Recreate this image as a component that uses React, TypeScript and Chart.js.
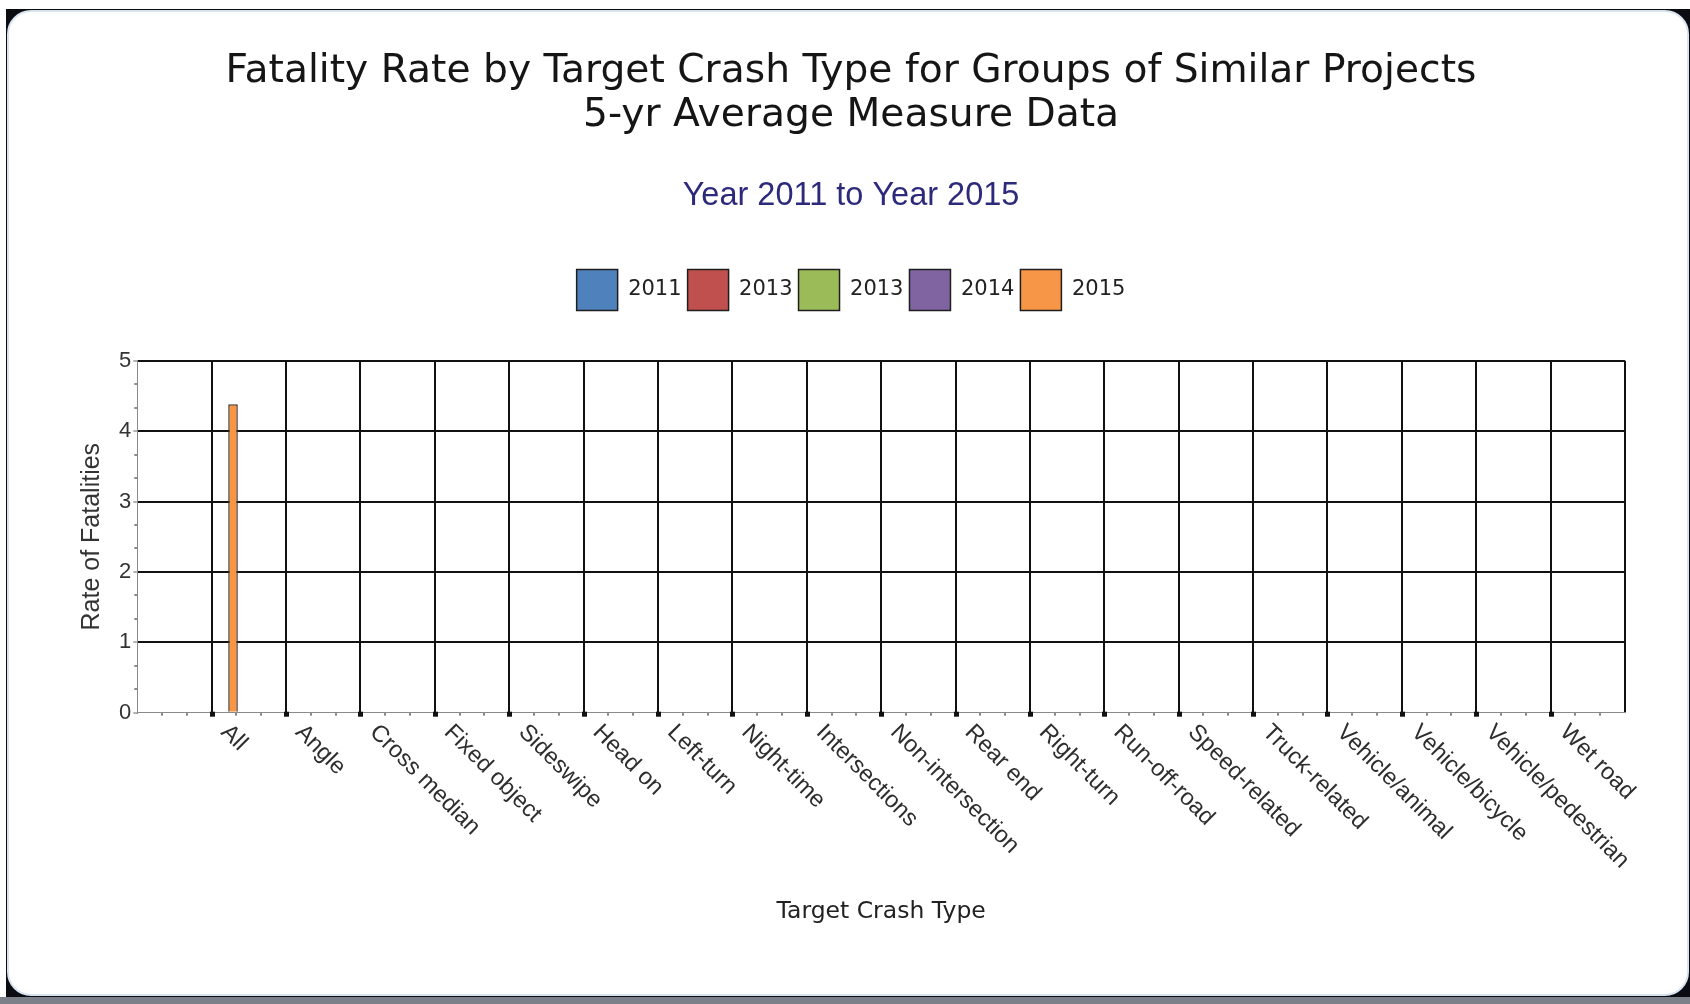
import React, { useEffect, useRef } from 'react';
import { Chart, registerables } from 'chart.js';

Chart.register(...registerables);

const titleLines = ['Fatality Rate by Target Crash Type for Groups of Similar Projects', '5-yr Average Measure Data'];
const subtitleText = 'Year 2011 to Year 2015';
const xAxisTitle = 'Target Crash Type';
const yAxisTitle = 'Rate of Fatalities';

const categories = [
  'All', 'Angle', 'Cross median', 'Fixed object', 'Sideswipe', 'Head on', 'Left-turn',
  'Night-time', 'Intersections', 'Non-intersection', 'Rear end', 'Right-turn', 'Run-off-road',
  'Speed-related', 'Truck-related', 'Vehicle/animal', 'Vehicle/bicycle', 'Vehicle/pedestrian', 'Wet road',
];

const seriesNames = ['2011', '2013', '2013', '2014', '2015'];
const seriesColors = ['#4F81BD', '#C0504D', '#9BBB59', '#8064A2', '#F79646'];

const values2011 = [null, null, null, null, null, null, null, null, null, null, null, null, null, null, null, null, null, null, null];
const values2013a = [null, null, null, null, null, null, null, null, null, null, null, null, null, null, null, null, null, null, null];
const values2013b = [null, null, null, null, null, null, null, null, null, null, null, null, null, null, null, null, null, null, null];
const values2014 = [null, null, null, null, null, null, null, null, null, null, null, null, null, null, null, null, null, null, null];
const values2015 = [4.38, null, null, null, null, null, null, null, null, null, null, null, null, null, null, null, null, null, null];

const seriesValues = [values2011, values2013a, values2013b, values2014, values2015];

const yMin = 0;
const yMax = 5;
const yStep = 1;

export default function App() {
  const canvasRef = useRef<HTMLCanvasElement | null>(null);

  useEffect(() => {
    const canvas = canvasRef.current;
    if (!canvas) return;

    const labels = ['', ...categories, ''];

    const decorPlugin = {
      id: 'decor',
      beforeInit(chart: any) {
        const lg = chart.legend;
        if (lg) {
          const orig = lg.fit.bind(lg);
          lg.fit = function () {
            orig();
            this.height += 40.2;
          };
        }
      },
      afterDraw(chart: any) {
        const { ctx, chartArea } = chart;
        const xs = chart.scales.x;
        const ys = chart.scales.y;
        ctx.save();
        // minor ticks on x
        ctx.fillStyle = '#8a8a8a';
        for (let i = 0; i < labels.length - 1; i++) {
          for (const f of [1 / 3, 2 / 3]) {
            const px = Math.round(xs.getPixelForValue(i + f));
            ctx.fillRect(px - 1, chartArea.bottom, 2, 3);
          }
        }
        // minor ticks on y
        for (let v = yMin; v < yMax; v += yStep) {
          for (const f of [1 / 3, 2 / 3]) {
            const py = Math.round(ys.getPixelForValue(v + f * yStep));
            ctx.fillRect(chartArea.left - 3, py - 1, 3, 2);
          }
        }
        // major tick squares
        ctx.fillStyle = '#111';
        categories.forEach((_, k) => {
          const px = xs.getPixelForValue(k + 1);
          ctx.fillRect(Math.round(px) - 2, chartArea.bottom - 1, 5, 5);
        });
        // rotated category labels
        ctx.font = '23.5px "Liberation Sans", Arial, sans-serif';
        ctx.fillStyle = '#2e2e2e';
        ctx.textAlign = 'left';
        ctx.textBaseline = 'middle';
        categories.forEach((c, k) => {
          const px = xs.getPixelForValue(k + 1);
          ctx.save();
          ctx.translate(px + 13, chartArea.bottom + 16);
          ctx.rotate(Math.PI / 4);
          ctx.fillText(c, 0, 0);
          ctx.restore();
        });
        ctx.restore();
      },
    };

    const chart = new Chart(canvas, {
      type: 'bar',
      data: {
        labels,
        datasets: seriesNames.map((name, i) => ({
          label: name,
          data: [null, ...seriesValues[i], null],
          backgroundColor: seriesColors[i],
          borderColor: '#4a3426',
          borderWidth: 1.5,
          barPercentage: 0.9,
          categoryPercentage: 0.717,
        })),
      },
      options: {
        responsive: false,
        animation: false,
        devicePixelRatio: 1,
        layout: { padding: { left: 77, right: 65, top: 0, bottom: 0 } },
        plugins: {
          title: {
            display: true,
            text: titleLines,
            color: '#151515',
            font: { family: '"DejaVu Sans", Verdana, sans-serif', size: 39.2, weight: 'normal', lineHeight: '44px' },
            padding: { top: 49.5, bottom: 0 },
          },
          subtitle: {
            display: true,
            text: subtitleText,
            color: '#2d2a7c',
            font: { family: '"Liberation Sans", Arial, sans-serif', size: 32.5, weight: 'normal', lineHeight: '39px' },
            padding: { top: 39, bottom: 48 },
          },
          legend: {
            display: true,
            position: 'top',
            labels: {
              boxWidth: 41,
              boxHeight: 41,
              padding: 6,
              color: '#222',
              font: { family: '"DejaVu Sans", Verdana, sans-serif', size: 21 },
              generateLabels: (ch: any) =>
                ch.data.datasets.map((ds: any, i: number) => ({
                  text: ds.label,
                  fillStyle: seriesColors[i],
                  strokeStyle: '#1e1e1e',
                  lineWidth: 1.5,
                  hidden: false,
                  datasetIndex: i,
                  fontColor: '#222',
                })),
            },
          },
          tooltip: { enabled: false },
        },
        scales: {
          x: {
            type: 'category',
            offset: false,
            grid: {
              offset: false,
              drawTicks: false,
              lineWidth: 2,
              color: (c: any) => (c.index === 0 ? 'rgba(0,0,0,0)' : '#111'),
            },
            border: { display: true, color: '#8a8a8a', width: 1 },
            ticks: { display: false },
            title: {
              display: true,
              text: xAxisTitle,
              color: '#222',
              font: { family: '"DejaVu Sans", Verdana, sans-serif', size: 23.5, lineHeight: 1.2 },
              padding: { top: 0, bottom: 77.6 },
            },
            afterFit: (s: any) => {
              s.height = 291.3;
            },
          },
          y: {
            min: yMin,
            max: yMax,
            grid: {
              lineWidth: 2,
              color: (c: any) => (c.index === 0 ? 'rgba(0,0,0,0)' : '#111'),
              tickColor: '#666',
              tickLength: 4,
              tickWidth: 1,
            },
            border: { display: true, color: '#8a8a8a', width: 1 },
            ticks: {
              stepSize: yStep,
              padding: 2,
              color: '#333',
              font: { family: '"Liberation Sans", Arial, sans-serif', size: 22 },
            },
            title: {
              display: true,
              text: yAxisTitle,
              color: '#333',
              font: { family: '"Liberation Sans", Arial, sans-serif', size: 25, lineHeight: 1.2 },
              padding: { top: 0.3, bottom: 0 },
            },
            afterFit: (s: any) => {
              s.width = 60.3;
            },
          },
        },
      },
      plugins: [decorPlugin],
    } as any);

    return () => chart.destroy();
  }, []);

  return (
    <div style={{ position: 'fixed', left: 0, top: 0, width: 1690, height: 1004, background: '#ffffff', overflow: 'hidden' }}>
      <div style={{ position: 'absolute', left: 0, top: 997, width: 1690, height: 7, background: '#7c8189' }} />
      <div style={{ position: 'absolute', left: 6, top: 9, width: 1684, height: 988, background: '#0b0b12' }}>
        <div
          style={{
            position: 'absolute',
            left: 1,
            top: 1,
            width: 1682,
            height: 986,
            borderRadius: 24,
            background: '#ffffff',
            border: '2px solid #d8e3f0',
            boxSizing: 'border-box',
          }}
        />
      </div>
      <canvas ref={canvasRef} width={1690} height={1004} style={{ position: 'absolute', left: 0, top: 0, width: 1690, height: 1004 }} />
    </div>
  );
}
